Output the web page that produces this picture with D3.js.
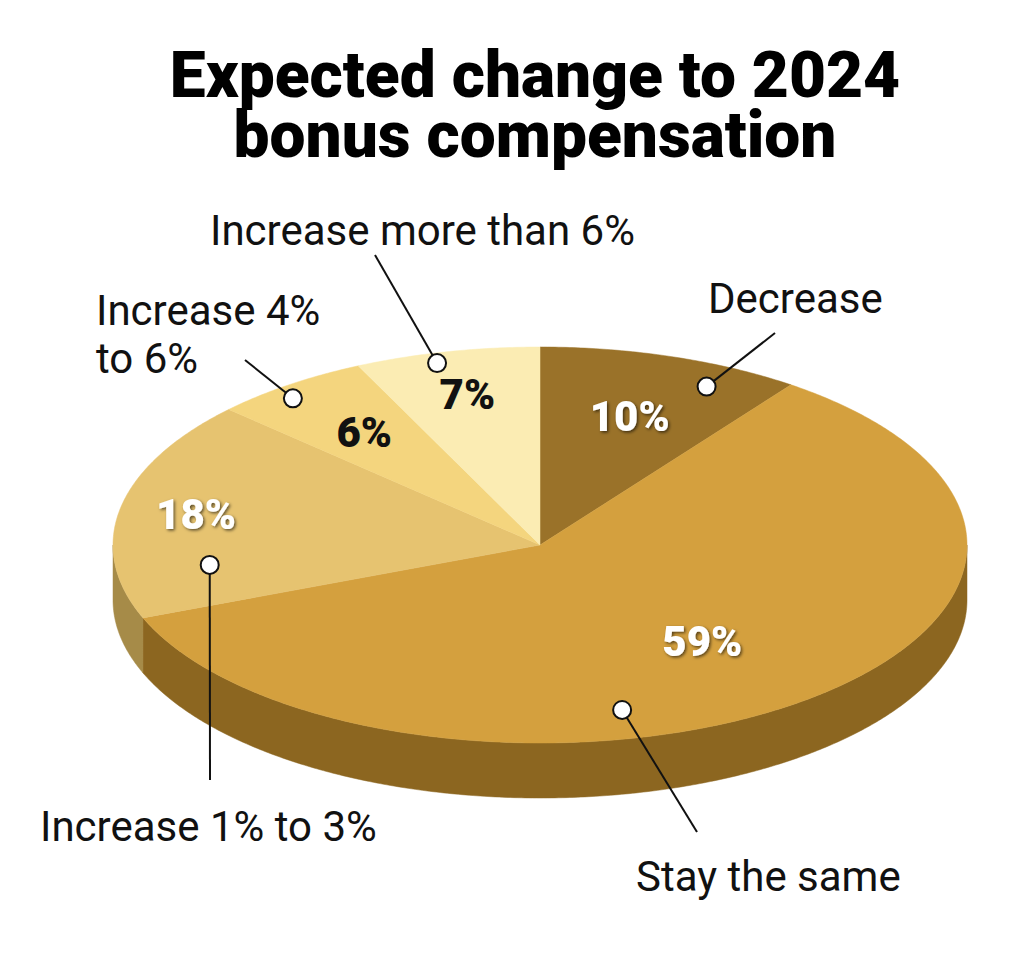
<!DOCTYPE html>
<html><head><meta charset="utf-8">
<script src="https://cdn.jsdelivr.net/npm/d3@7"></script>
<style>body{margin:0;background:#fff}</style></head>
<body><svg id="c" width="1024" height="959"></svg>
<script>
const categories = ["Decrease","Stay the same","Increase 1% to 3%","Increase 4% to 6%","Increase more than 6%"];
const values = [10,59,18,6,7];
const topColors = ["#9a7229","#d4a03e","#e6c370","#f4d57e","#fbecb3"];
const sideColors = ["#6e5019","#8c6620","#a68b48","#b89a52","#c4ad6a"];
const labelDark = [false,false,false,true,true];
const labelR = [0.68,0.62,0.82,0.7,0.78];
const callouts = [
 {a:26,r:0.89,end:[775,333],tx:708,ty:313,lines:["Decrease"]},
 {a:167,r:0.855,end:[697,832],tx:636,ty:891,lines:["Stay the same"]},
 {a:262.6,r:0.78,end:[210,780],tx:40,ty:841,lines:["Increase 1% to 3%"]},
 {a:322,r:0.94,end:[245,360],tx:96,ty:325,lines:["Increase 4%","to 6%"]},
 {a:345.3,r:0.95,end:[375,255],tx:210,ty:245,lines:["Increase more than 6%"]}
];
const cx=540, cy=545, rx=427, ry=198, depth=55;
const svg=d3.select("#c");
const defs=svg.append("defs");
const f=defs.append("filter").attr("id","sh").attr("x","-20%").attr("y","-20%").attr("width","140%").attr("height","140%");
f.append("feDropShadow").attr("dx",1.5).attr("dy",1.5).attr("stdDeviation",1.5).attr("flood-color","#000").attr("flood-opacity",0.6);

const P=(deg,r=1,dz=0)=>[cx+rx*r*Math.sin(deg*Math.PI/180), cy-ry*r*Math.cos(deg*Math.PI/180)+dz];
const pie=d3.pie().sort(null).value(d=>d).startAngle(0).endAngle(2*Math.PI);
const arcs=pie(values).map(d=>({data:d.data,s:d.startAngle*180/Math.PI,e:d.endAngle*180/Math.PI}));
const line=d3.line();
arcs.forEach((d,i)=>{
  const s=Math.max(d.s,90), e=Math.min(d.e,270);
  if(e<=s) return;
  const pts=d3.range(s,e,0.5).concat([e]);
  const poly=pts.map(a=>P(a)).concat(pts.slice().reverse().map(a=>P(a,1,depth)));
  svg.append("path").attr("d",line(poly)+"Z").attr("fill",sideColors[i]).attr("stroke",sideColors[i]).attr("stroke-width",0.5);
});
arcs.forEach((d,i)=>{
  const pts=d3.range(d.s,d.e,0.5).concat([d.e]);
  const poly=[[cx,cy]].concat(pts.map(a=>P(a)));
  svg.append("path").attr("d",line(poly)+"Z").attr("fill",topColors[i]).attr("stroke",topColors[i]).attr("stroke-width",0.5);
});
arcs.forEach((d,i)=>{
  const m=(d.s+d.e)/2; const [x,y]=P(m,labelR[i]);
  svg.append("text").attr("x",x).attr("y",y).attr("text-anchor","middle").attr("dominant-baseline","central")
   .attr("font-family","Roboto").attr("font-weight",900).attr("font-size",42)
   .attr("fill",labelDark[i]?"#111":"#fff").attr("filter",labelDark[i]?null:"url(#sh)").text(d.data+"%");
});
callouts.forEach(c=>{
  const [x,y]=P(c.a,c.r);
  svg.append("line").attr("x1",x).attr("y1",y).attr("x2",c.end[0]).attr("y2",c.end[1]).attr("stroke","#111").attr("stroke-width",2);
  svg.append("circle").attr("cx",x).attr("cy",y).attr("r",9).attr("fill","#fff").attr("stroke","#111").attr("stroke-width",2);
  c.lines.forEach((t,k)=>svg.append("text").attr("x",c.tx).attr("y",c.ty+k*48).attr("font-family","Roboto").attr("font-size",42).attr("fill","#111").text(t));
});
["Expected change to 2024","bonus compensation"].forEach((t,k)=>
  svg.append("text").attr("x",535).attr("y",97+k*60).attr("text-anchor","middle").attr("font-family","Roboto").attr("font-weight",900)
   .attr("font-size",64).attr("fill","#000").text(t));
</script></body></html>
